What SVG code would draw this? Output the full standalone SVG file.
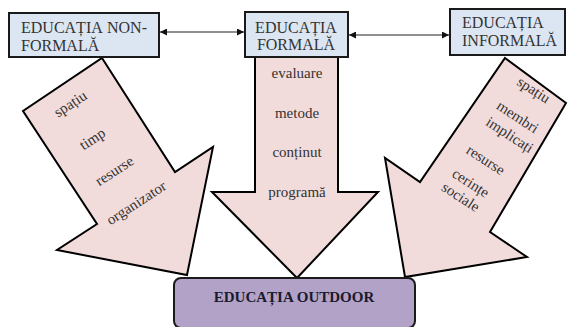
<svg xmlns="http://www.w3.org/2000/svg" width="568" height="327" viewBox="0 0 568 327">
<style>
.box{fill:#dce6f2;stroke:#1a1a1a;stroke-width:2}
.big{fill:#f2dcdb;stroke:#000;stroke-width:2;stroke-linejoin:miter}
text{font-family:'Liberation Serif','Times New Roman',Tinos,'DejaVu Serif',serif}
.bt{font-size:16px;fill:#333}
.at{font-size:15px;fill:#333;text-anchor:middle}
.ot{font-size:15px;font-weight:bold;fill:#1a1a2e;text-anchor:middle}
.con{stroke:#222;stroke-width:1.2;fill:none}
</style>
<defs>
<marker id="ah" viewBox="0 0 10 10" refX="10" refY="5" markerWidth="7" markerHeight="7" orient="auto-start-reverse" markerUnits="userSpaceOnUse">
<path d="M0,0 L10,5 L0,10 z" fill="#111"/>
</marker>
</defs>
<rect width="568" height="327" fill="#fff"/>

<g id="arrow-nonformal">
<polygon class="big" points="102,58 175,172 213,147 187,275 57,250 97,224 23,111"/>
<g class="at" font-family="Liberation Serif, serif">
<text transform="translate(73,108) rotate(-33)">spațiu</text>
<text transform="translate(95,143) rotate(-33)">timp</text>
<text transform="translate(117,175) rotate(-33)">resurse</text>
<text transform="translate(139,207) rotate(-33)">organizator</text>
</g>
</g>

<g id="arrow-formal">
<polygon class="big" points="255,57 338,57 338,192 378,192 297,278 212,192 255,192"/>
<text class="at" x="297" y="78">evaluare</text>
<text class="at" x="297" y="118">metode</text>
<text class="at" x="297" y="157">conținut</text>
<text class="at" x="297" y="197">programă</text>
</g>

<g id="arrow-informal">
<polygon class="big" points="505,58 566,103 490,232 527,257 405,277 385,158 420,182"/>
<g class="at">
<text transform="translate(531,94) rotate(33)">spațiu</text>
<text transform="translate(515,121) rotate(33)">membri</text>
<text transform="translate(507,139) rotate(33)">implicați</text>
<text transform="translate(483,164) rotate(33)">resurse</text>
<text transform="translate(468,187) rotate(33)">cerințe</text>
<text transform="translate(458,201) rotate(33)">sociale</text>
</g>
</g>

<g id="node-nonformal">
<rect class="box" x="9" y="13" width="150" height="44"/>
<text class="bt" x="21" y="33">EDUCAȚIA</text>
<text class="bt" x="147" y="33" text-anchor="end">NON-</text>
<text class="bt" x="21" y="51">FORMALĂ</text>
</g>

<g id="node-formal">
<rect class="box" x="245" y="12" width="103" height="45"/>
<text class="bt" x="296" y="33" text-anchor="middle">EDUCAȚIA</text>
<text class="bt" x="296" y="50" text-anchor="middle">FORMALĂ</text>
</g>

<g id="node-informal">
<rect class="box" x="450" y="9" width="115" height="46"/>
<text class="bt" x="462" y="28">EDUCAȚIA</text>
<text class="bt" x="462" y="46">INFORMALĂ</text>
</g>

<g id="node-outdoor">
<rect x="174" y="278" width="241" height="50" rx="7" ry="7" fill="#b3a2c7" stroke="#1a1a1a" stroke-width="2"/>
<text class="ot" x="294" y="302">EDUCAȚIA OUTDOOR</text>
</g>

<g id="connectors">
<line class="con" x1="160" y1="32" x2="244" y2="32" marker-start="url(#ah)" marker-end="url(#ah)"/>
<line class="con" x1="349" y1="35" x2="449" y2="35" marker-start="url(#ah)" marker-end="url(#ah)"/>
</g>
</svg>
